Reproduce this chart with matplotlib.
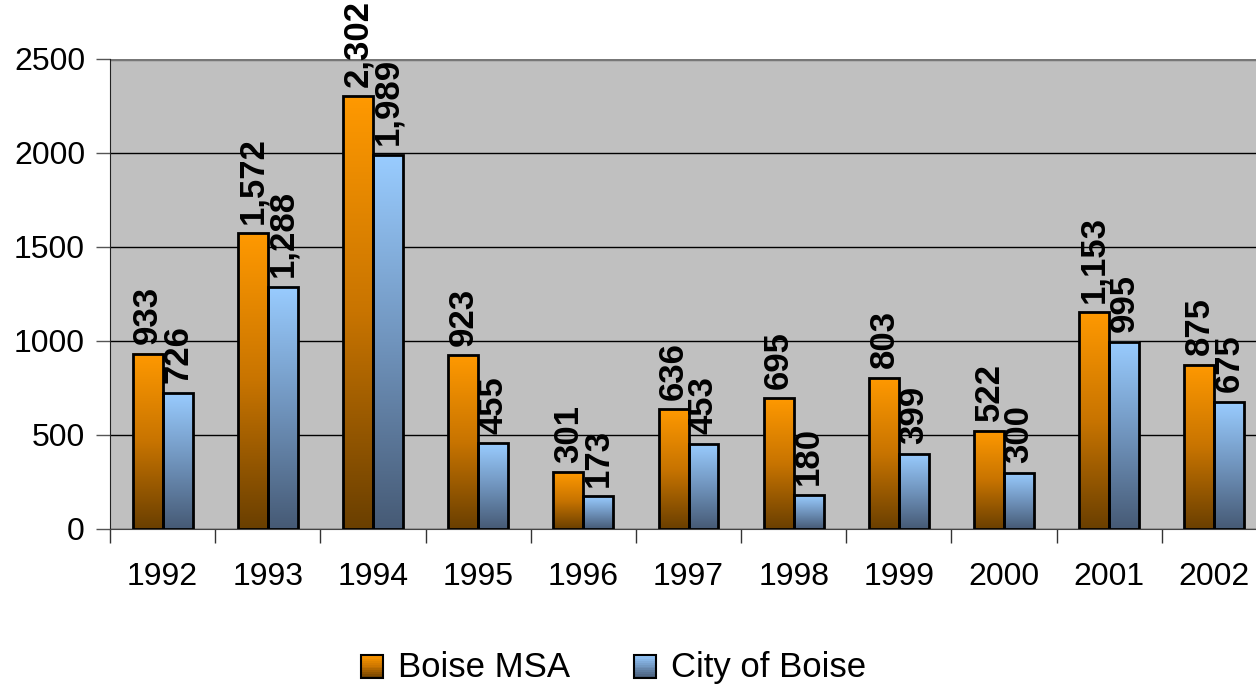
import matplotlib
matplotlib.use("Agg")
import matplotlib.pyplot as plt
import numpy as np
from matplotlib.colors import LinearSegmentedColormap
from matplotlib.legend_handler import HandlerBase
from matplotlib.patches import Rectangle

plt.rcParams['font.family'] = ['Liberation Sans', 'DejaVu Sans']

years = ['1992', '1993', '1994', '1995', '1996', '1997', '1998', '1999', '2000', '2001', '2002']
boise_msa = [933, 1572, 2302, 923, 301, 636, 695, 803, 522, 1153, 875]
city_of_boise = [726, 1288, 1989, 455, 173, 453, 180, 399, 300, 995, 675]
series_names = ['Boise MSA', 'City of Boise']

# gradient colours, bottom -> top
orange_grad = LinearSegmentedColormap.from_list('org', ['#6a3f00', '#c87400', '#ff9900'])
blue_grad = LinearSegmentedColormap.from_list('blu', ['#465a75', '#7094bd', '#99ccff'])

fig = plt.figure(figsize=(12.56, 6.87), dpi=100)
ax = fig.add_axes([110 / 1256, 158 / 687, 1157 / 1256, 470 / 687])
ax.set_facecolor('#c0c0c0')

x = np.arange(len(years))
w = 0.285
grad = np.linspace(0, 1, 256).reshape(-1, 1)

for vals, off, cmap in [(boise_msa, -w / 2, orange_grad), (city_of_boise, w / 2, blue_grad)]:
    bars = ax.bar(x + off, vals, width=w, facecolor='none', edgecolor='black', linewidth=2, zorder=3)
    for b, v in zip(bars, vals):
        x0 = b.get_x()
        ax.imshow(grad, extent=(x0, x0 + w, 0, v), origin='lower', cmap=cmap, aspect='auto', zorder=2)
        ax.annotate(f'{v:,}', (x0 + w / 2, v), xytext=(0, 7), textcoords='offset points',
                    rotation=90, ha='center', va='bottom', fontsize=25, fontweight='bold',
                    annotation_clip=False, zorder=4)

ax.set_xlim(-0.5, len(years) - 0.5)
ax.set_ylim(0, 2500)
ax.set_yticks(np.arange(0, 2501, 500))
ax.set_xticks(x)
ax.set_xticklabels(years)
ax.set_xticks(np.arange(-0.5, len(years)), minor=True)
ax.tick_params(axis='x', which='major', length=0, pad=24, labelsize=23)
ax.tick_params(axis='x', which='minor', length=10, width=1, direction='out', color='#333333')
ax.tick_params(axis='y', length=10, width=1, direction='out', pad=8, labelsize=23, color='#555555')
ax.yaxis.grid(True, color='black', linewidth=1)
ax.set_axisbelow(True)
for s in ['top', 'right']:
    ax.spines[s].set_visible(False)
ax.spines['left'].set_color('#222222')
ax.spines['bottom'].set_color('#444444')
ax.axhline(2500, color='#777777', linewidth=2.5, zorder=1)


class GradHandler(HandlerBase):
    def __init__(self, cmap):
        super().__init__()
        self.cmap = cmap

    def create_artists(self, legend, orig_handle, xdescent, ydescent, width, height, fontsize, trans):
        side = 16
        x0 = -xdescent + (width - side) / 2
        y0 = -ydescent + (height - side) / 2 - 1
        n = 12
        arts = []
        for i in range(n):
            r = Rectangle((x0, y0 + side * i / n), side, side / n,
                          facecolor=self.cmap((i + 0.5) / n), edgecolor='none', transform=trans)
            arts.append(r)
        arts.append(Rectangle((x0, y0), side, side, facecolor='none', edgecolor='black',
                              linewidth=1.5, transform=trans))
        return arts


h1 = Rectangle((0, 0), 1, 1)
h2 = Rectangle((0, 0), 1, 1)
fig.legend([h1, h2], series_names, loc='center', bbox_to_anchor=(0.488, 0.028), ncol=2,
           frameon=False, fontsize=25, handlelength=0.7, handletextpad=0.4, columnspacing=1.8,
           handler_map={h1: GradHandler(orange_grad), h2: GradHandler(blue_grad)})

fig.savefig('out.png', dpi=100)
